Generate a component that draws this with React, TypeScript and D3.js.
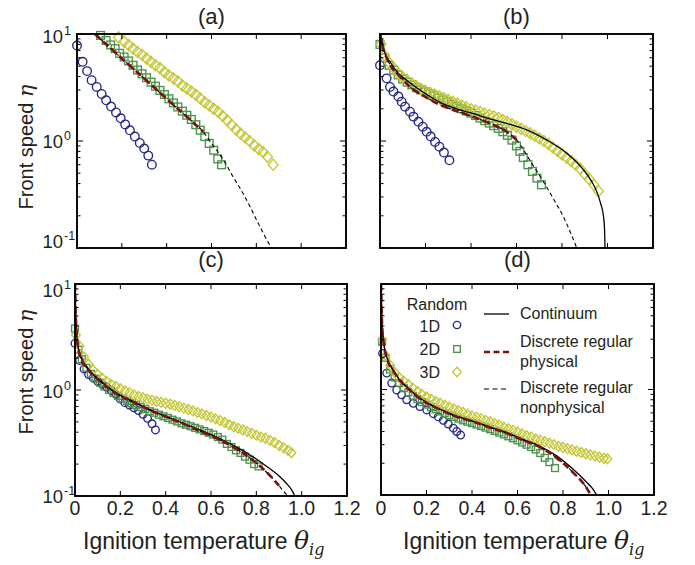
import React from 'react';
import * as d3 from 'd3';

type Pt = [number, number];

// ---------- axis / text content ----------
const xTickValues = [0, 0.2, 0.4, 0.6, 0.8, 1.0, 1.2];
const xTickLabels = ['0', '0.2', '0.4', '0.6', '0.8', '1.0', '1.2'];
const yTickValues = [0.1, 1, 10];
const yTickExponents = ['-1', '0', '1'];
const panelTitles = ['(a)', '(b)', '(c)', '(d)'];
const randomLabels = ['1D', '2D', '3D'];
const lineLabels = [['Continuum'], ['Discrete regular', 'physical'], ['Discrete regular', 'nonphysical']];

// ---------- panel (a) ----------
const a1D: Pt[] = [[0.0, 7.8], [0.025, 5.5], [0.045, 4.5], [0.065, 3.7], [0.088, 3.2], [0.11, 2.75], [0.13, 2.4], [0.152, 2.1], [0.174, 1.85], [0.195, 1.63], [0.215, 1.43], [0.236, 1.26], [0.258, 1.1], [0.28, 0.96], [0.3, 0.85], [0.318, 0.73], [0.334, 0.6]];
const a2D: Pt[] = [[0.105, 9.7], [0.13, 8.7], [0.15, 7.9], [0.17, 7.3], [0.19, 6.6], [0.21, 6.1], [0.23, 5.6], [0.25, 5.1], [0.27, 4.6], [0.29, 4.25], [0.31, 3.9], [0.33, 3.55], [0.35, 3.25], [0.37, 2.97], [0.39, 2.72], [0.41, 2.48], [0.43, 2.27], [0.45, 2.08], [0.47, 1.9], [0.49, 1.74], [0.51, 1.59], [0.53, 1.42], [0.55, 1.26], [0.57, 1.1], [0.59, 0.95], [0.61, 0.82], [0.628, 0.68], [0.645, 0.6]];
const a3D: Pt[] = [[0.185, 9.3], [0.21, 8.5], [0.23, 7.9], [0.25, 7.3], [0.27, 6.8], [0.29, 6.4], [0.31, 5.9], [0.33, 5.5], [0.35, 5.1], [0.37, 4.8], [0.39, 4.4], [0.41, 4.1], [0.43, 3.85], [0.45, 3.6], [0.47, 3.3], [0.49, 3.1], [0.51, 2.9], [0.53, 2.7], [0.55, 2.5], [0.57, 2.3], [0.59, 2.15], [0.61, 2.0], [0.63, 1.87], [0.65, 1.71], [0.67, 1.56], [0.69, 1.41], [0.71, 1.28], [0.73, 1.17], [0.75, 1.08], [0.77, 1.0], [0.79, 0.91], [0.81, 0.84], [0.83, 0.79], [0.85, 0.71], [0.875, 0.6]];
const aPhys: Pt[] = [[0.08, 10], [0.2, 5.9], [0.326, 3.43], [0.4, 2.48], [0.5, 1.61], [0.5635, 1.22]];
const aNonphys: Pt[] = [[0.08, 10], [0.2, 5.9], [0.326, 3.43], [0.4, 2.48], [0.5, 1.61], [0.5635, 1.22], [0.6, 0.95], [0.623, 0.82], [0.66, 0.63], [0.697, 0.46], [0.735, 0.34], [0.772, 0.243], [0.8, 0.185], [0.831, 0.137], [0.868, 0.1]];

// ---------- panel (b) ----------
const b1D: Pt[] = [[0.0, 5.1], [0.029, 3.85], [0.044, 3.2], [0.059, 2.9], [0.081, 2.6], [0.095, 2.33], [0.11, 2.09], [0.132, 1.88], [0.147, 1.69], [0.169, 1.51], [0.188, 1.36], [0.205, 1.22], [0.223, 1.1], [0.242, 0.98], [0.261, 0.885], [0.281, 0.78], [0.305, 0.66]];
const b2D: Pt[] = [[0.0, 8.0], [0.02, 6.0], [0.04, 5.1], [0.06, 4.6], [0.08, 4.15], [0.1, 3.8], [0.12, 3.55], [0.14, 3.35], [0.16, 3.15], [0.18, 3.0], [0.2, 2.88], [0.22, 2.76], [0.24, 2.64], [0.26, 2.52], [0.28, 2.42], [0.3, 2.32], [0.32, 2.2], [0.34, 2.1], [0.36, 2.0], [0.38, 1.91], [0.4, 1.82], [0.42, 1.73], [0.44, 1.64], [0.46, 1.55], [0.48, 1.47], [0.5, 1.39], [0.52, 1.31], [0.54, 1.22], [0.56, 1.13], [0.58, 1.02], [0.6, 0.9], [0.615, 0.8], [0.63, 0.7], [0.65, 0.6], [0.67, 0.52], [0.69, 0.45], [0.71, 0.39]];
const b3D: Pt[] = [[0.005, 8.0], [0.02, 6.3], [0.04, 5.4], [0.06, 4.8], [0.08, 4.3], [0.1, 3.95], [0.12, 3.7], [0.14, 3.45], [0.16, 3.25], [0.18, 3.07], [0.2, 2.93], [0.22, 2.82], [0.24, 2.72], [0.26, 2.62], [0.28, 2.52], [0.3, 2.42], [0.32, 2.32], [0.34, 2.23], [0.36, 2.14], [0.38, 2.06], [0.4, 1.98], [0.42, 1.92], [0.44, 1.86], [0.46, 1.8], [0.48, 1.75], [0.5, 1.7], [0.52, 1.64], [0.54, 1.57], [0.56, 1.5], [0.58, 1.43], [0.6, 1.36], [0.62, 1.3], [0.64, 1.24], [0.66, 1.18], [0.68, 1.12], [0.7, 1.06], [0.72, 1.0], [0.74, 0.94], [0.76, 0.87], [0.78, 0.81], [0.8, 0.75], [0.82, 0.7], [0.84, 0.65], [0.86, 0.6], [0.88, 0.55], [0.9, 0.49], [0.92, 0.44], [0.94, 0.39], [0.96, 0.34]];
const bCont: Pt[] = [[0.004, 10], [0.01, 8.3], [0.02, 6.8], [0.044, 5.5], [0.08, 4.3], [0.117, 3.7], [0.19, 2.85], [0.264, 2.3], [0.337, 2.0], [0.41, 1.8], [0.48, 1.62], [0.557, 1.46], [0.645, 1.27], [0.733, 1.02], [0.821, 0.77], [0.894, 0.54], [0.93, 0.42], [0.952, 0.34], [0.97, 0.26], [0.982, 0.2], [0.987, 0.15], [0.989, 0.1]];
const bPhys: Pt[] = [[0.0, 10], [0.01, 7.8], [0.029, 6.0], [0.06, 4.6], [0.088, 4.0], [0.14, 3.1], [0.19, 2.65], [0.26, 2.2], [0.337, 1.9], [0.41, 1.68], [0.484, 1.46], [0.557, 1.22], [0.601, 1.02]];
const bNonphys: Pt[] = [[0.0, 10], [0.01, 7.8], [0.029, 6.0], [0.06, 4.6], [0.088, 4.0], [0.14, 3.1], [0.19, 2.65], [0.26, 2.2], [0.337, 1.9], [0.41, 1.68], [0.484, 1.46], [0.557, 1.22], [0.601, 1.02], [0.63, 0.83], [0.659, 0.66], [0.695, 0.5], [0.733, 0.37], [0.77, 0.27], [0.806, 0.196], [0.84, 0.135], [0.865, 0.1]];

// ---------- panel (c) ----------
const c1D: Pt[] = [[0.0, 2.75], [0.02, 1.9], [0.04, 1.58], [0.06, 1.4], [0.08, 1.3], [0.1, 1.21], [0.12, 1.13], [0.14, 1.06], [0.16, 0.99], [0.18, 0.91], [0.2, 0.82], [0.22, 0.76], [0.24, 0.72], [0.26, 0.68], [0.28, 0.64], [0.3, 0.59], [0.32, 0.54], [0.34, 0.48], [0.355, 0.42]];
const c2D: Pt[] = [[0.0, 3.8], [0.015, 2.4], [0.03, 1.95], [0.05, 1.62], [0.07, 1.42], [0.09, 1.28], [0.11, 1.17], [0.13, 1.08], [0.15, 1.0], [0.17, 0.94], [0.19, 0.88], [0.21, 0.83], [0.23, 0.79], [0.25, 0.75], [0.27, 0.72], [0.29, 0.69], [0.31, 0.66], [0.33, 0.63], [0.35, 0.61], [0.37, 0.585], [0.39, 0.565], [0.41, 0.545], [0.43, 0.525], [0.45, 0.505], [0.47, 0.485], [0.49, 0.47], [0.51, 0.455], [0.53, 0.44], [0.55, 0.425], [0.57, 0.41], [0.59, 0.395], [0.61, 0.38], [0.63, 0.36], [0.65, 0.34], [0.67, 0.31], [0.69, 0.29], [0.71, 0.27], [0.73, 0.255], [0.75, 0.235], [0.77, 0.22], [0.79, 0.2], [0.81, 0.19]];
const c3D: Pt[] = [[0.004, 3.3], [0.02, 2.6], [0.04, 2.05], [0.06, 1.75], [0.08, 1.55], [0.1, 1.4], [0.12, 1.29], [0.14, 1.2], [0.16, 1.13], [0.18, 1.08], [0.2, 1.03], [0.22, 0.98], [0.24, 0.94], [0.26, 0.9], [0.28, 0.87], [0.3, 0.845], [0.32, 0.82], [0.34, 0.8], [0.36, 0.78], [0.38, 0.765], [0.4, 0.75], [0.42, 0.735], [0.44, 0.715], [0.46, 0.695], [0.48, 0.675], [0.5, 0.655], [0.52, 0.635], [0.54, 0.615], [0.56, 0.595], [0.58, 0.575], [0.6, 0.555], [0.62, 0.535], [0.64, 0.515], [0.66, 0.495], [0.68, 0.47], [0.7, 0.45], [0.72, 0.435], [0.74, 0.42], [0.76, 0.405], [0.78, 0.39], [0.8, 0.375], [0.82, 0.36], [0.84, 0.35], [0.86, 0.335], [0.88, 0.32], [0.9, 0.3], [0.92, 0.285], [0.94, 0.27], [0.955, 0.256]];
const cCont: Pt[] = [[0.0005, 10], [0.003, 5.5], [0.007, 3.5], [0.015, 2.5], [0.03, 1.95], [0.051, 1.66], [0.08, 1.4], [0.11, 1.24], [0.15, 1.05], [0.184, 0.93], [0.257, 0.78], [0.331, 0.65], [0.405, 0.56], [0.478, 0.485], [0.551, 0.42], [0.625, 0.36], [0.698, 0.3], [0.772, 0.244], [0.846, 0.19], [0.904, 0.152], [0.935, 0.13], [0.955, 0.115], [0.97, 0.1]];
const cPhys: Pt[] = [[0.0, 10], [0.003, 5.2], [0.007, 3.4], [0.015, 2.45], [0.03, 1.9], [0.051, 1.62], [0.08, 1.37], [0.11, 1.21], [0.15, 1.03], [0.184, 0.92], [0.257, 0.77], [0.331, 0.645], [0.405, 0.555], [0.478, 0.48], [0.551, 0.41], [0.625, 0.35], [0.698, 0.29], [0.772, 0.228], [0.83, 0.18], [0.87, 0.148], [0.9, 0.125]];
const cNonphys: Pt[] = [[0.0, 10], [0.003, 5.2], [0.007, 3.4], [0.015, 2.45], [0.03, 1.9], [0.051, 1.62], [0.08, 1.37], [0.11, 1.21], [0.15, 1.03], [0.184, 0.92], [0.257, 0.77], [0.331, 0.645], [0.405, 0.555], [0.478, 0.48], [0.551, 0.41], [0.625, 0.35], [0.698, 0.29], [0.772, 0.228], [0.83, 0.18], [0.87, 0.148], [0.9, 0.125], [0.92, 0.111], [0.94, 0.1]];

// ---------- panel (d) ----------
const d1D: Pt[] = [[0.007, 2.2], [0.025, 1.43], [0.047, 1.15], [0.069, 0.99], [0.091, 0.89], [0.113, 0.8], [0.142, 0.74], [0.171, 0.69], [0.201, 0.64], [0.23, 0.59], [0.252, 0.55], [0.274, 0.51], [0.296, 0.47], [0.318, 0.43], [0.333, 0.4], [0.35, 0.37]];
const d2D: Pt[] = [[0.005, 2.84], [0.02, 2.0], [0.04, 1.55], [0.06, 1.3], [0.08, 1.15], [0.1, 1.03], [0.12, 0.94], [0.14, 0.87], [0.16, 0.81], [0.18, 0.76], [0.2, 0.72], [0.22, 0.68], [0.24, 0.65], [0.26, 0.62], [0.28, 0.595], [0.3, 0.57], [0.32, 0.55], [0.34, 0.53], [0.36, 0.51], [0.38, 0.495], [0.4, 0.48], [0.42, 0.465], [0.44, 0.45], [0.46, 0.435], [0.48, 0.42], [0.5, 0.405], [0.52, 0.39], [0.54, 0.375], [0.56, 0.36], [0.58, 0.345], [0.6, 0.33], [0.62, 0.315], [0.64, 0.3], [0.66, 0.285], [0.68, 0.27], [0.7, 0.25], [0.72, 0.225], [0.74, 0.205], [0.765, 0.18]];
const d3D: Pt[] = [[0.005, 2.94], [0.02, 2.1], [0.04, 1.7], [0.06, 1.45], [0.08, 1.3], [0.1, 1.2], [0.12, 1.11], [0.14, 1.03], [0.16, 0.96], [0.18, 0.9], [0.2, 0.85], [0.22, 0.81], [0.24, 0.77], [0.26, 0.74], [0.28, 0.71], [0.3, 0.68], [0.32, 0.655], [0.34, 0.63], [0.36, 0.61], [0.38, 0.585], [0.4, 0.56], [0.42, 0.545], [0.44, 0.53], [0.46, 0.51], [0.48, 0.495], [0.5, 0.475], [0.52, 0.46], [0.54, 0.44], [0.56, 0.425], [0.58, 0.41], [0.6, 0.395], [0.62, 0.38], [0.64, 0.365], [0.66, 0.355], [0.68, 0.34], [0.7, 0.33], [0.72, 0.32], [0.74, 0.31], [0.76, 0.3], [0.78, 0.29], [0.8, 0.282], [0.82, 0.275], [0.84, 0.268], [0.86, 0.26], [0.88, 0.253], [0.9, 0.246], [0.92, 0.24], [0.94, 0.234], [0.96, 0.228], [0.98, 0.223], [0.995, 0.22]];
const dCont: Pt[] = [[0.001, 10], [0.004, 4.5], [0.01, 3.0], [0.025, 2.05], [0.054, 1.53], [0.08, 1.25], [0.113, 1.06], [0.15, 0.9], [0.186, 0.79], [0.259, 0.65], [0.33, 0.56], [0.406, 0.5], [0.48, 0.44], [0.553, 0.39], [0.626, 0.335], [0.699, 0.29], [0.772, 0.235], [0.845, 0.175], [0.904, 0.132], [0.93, 0.115], [0.948, 0.1]];
const dPhys: Pt[] = [[0.0, 10], [0.004, 4.4], [0.01, 2.95], [0.025, 2.02], [0.054, 1.51], [0.08, 1.24], [0.113, 1.05], [0.15, 0.89], [0.186, 0.78], [0.259, 0.645], [0.33, 0.555], [0.406, 0.495], [0.48, 0.435], [0.553, 0.385], [0.626, 0.33], [0.699, 0.285], [0.772, 0.225], [0.845, 0.163], [0.9, 0.12], [0.922, 0.1]];
const dNonphys: Pt[] = [[0.0, 10], [0.004, 4.4], [0.01, 2.95], [0.025, 2.02], [0.054, 1.51], [0.08, 1.24], [0.113, 1.05], [0.15, 0.89], [0.186, 0.78], [0.259, 0.645], [0.33, 0.555], [0.406, 0.495], [0.48, 0.435], [0.553, 0.385], [0.626, 0.33], [0.699, 0.285], [0.772, 0.225], [0.845, 0.163], [0.9, 0.12], [0.922, 0.1]];

// ---------- styling ----------
const FONT = '"Liberation Sans", Arial, Helvetica, sans-serif';
const MATH = '"DejaVu Serif", "Liberation Serif", serif';
const INK = '#231f20';
const COL1 = '#24278a';
const COL2 = '#4c924a';
const COL3 = '#c4c732';
const COLRED = '#7a1212';
const MSTROKE = 1.35;

const panels = [
  { box: { l: 77, r: 346, t: 34, b: 248 }, s1: a1D, s2: a2D, s3: a3D, cont: null as Pt[] | null, phys: aPhys, nonphys: aNonphys, yLab: true, xLab: false, yOff: [0, 7, 9], ms: 4.3, xTitle: 0 },
  { box: { l: 380, r: 653, t: 34, b: 248 }, s1: b1D, s2: b2D, s3: b3D, cont: bCont, phys: bPhys, nonphys: bNonphys, yLab: false, xLab: false, yOff: [0, 7, 9], ms: 4.3, xTitle: 0 },
  { box: { l: 75, r: 347, t: 284, b: 496 }, s1: c1D, s2: c2D, s3: c3D, cont: cCont, phys: cPhys, nonphys: cNonphys, yLab: true, xLab: true, yOff: [7, 8, 13], ms: 3.8, xTitle: 83 },
  { box: { l: 381, r: 654, t: 284, b: 495 }, s1: d1D, s2: d2D, s3: d3D, cont: dCont, phys: dPhys, nonphys: dNonphys, yLab: false, xLab: true, yOff: [7, 8, 13], ms: 3.8, xTitle: 403 },
];

function Marker({ kind, x, y, s }: { kind: number; x: number; y: number; s: number }) {
  if (kind === 0) return <circle cx={x} cy={y} r={s} fill="none" stroke={COL1} strokeWidth={MSTROKE} />;
  if (kind === 1) return <rect x={x - s * 0.9} y={y - s * 0.9} width={s * 1.8} height={s * 1.8} fill="none" stroke={COL2} strokeWidth={MSTROKE} />;
  return <path d={`M${x},${y - s * 1.3}L${x + s * 1.15},${y}L${x},${y + s * 1.3}L${x - s * 1.15},${y}Z`} fill="none" stroke={COL3} strokeWidth={MSTROKE} />;
}

function Panel({ p, idx }: { p: typeof panels[number]; idx: number }) {
  const { box } = p;
  const xs = d3.scaleLinear().domain([0, 1.2]).range([box.l, box.r]);
  const ys = d3.scaleLog().domain([0.1, 10]).range([box.b, box.t]);
  const line = d3.line<Pt>().x(d => xs(d[0])).y(d => ys(d[1])).curve(d3.curveMonotoneX);
  const minor: number[] = [];
  [0.1, 1].forEach(dec => { for (let k = 2; k <= 9; k++) minor.push(dec * k); });
  const clipId = `clip${idx}`;
  const cx = (box.l + box.r) / 2;
  return (
    <g>
      <defs>
        <clipPath id={clipId}><rect x={box.l} y={box.t} width={box.r - box.l} height={box.b - box.t} /></clipPath>
      </defs>
      <text x={cx} y={idx < 2 ? 24 : 267} textAnchor="middle" fontSize={22} fontFamily={FONT} fill={INK}>{panelTitles[idx]}</text>
      {[p.s1, p.s2, p.s3].map((s, k) => (
        <g key={k}>{s.map((d, i) => <Marker key={i} kind={k} x={xs(d[0])} y={ys(d[1])} s={p.ms} />)}</g>
      ))}
      <g clipPath={`url(#${clipId})`}>
        {p.cont && <path d={line(p.cont) || ''} fill="none" stroke="#000" strokeWidth={1.3} />}
        <path d={line(p.nonphys) || ''} fill="none" stroke="#000" strokeWidth={1.1} strokeDasharray="4,3" />
        <path d={line(p.phys) || ''} fill="none" stroke={COLRED} strokeWidth={2.7} strokeDasharray="7,4" />
      </g>
      <rect x={box.l} y={box.t} width={box.r - box.l} height={box.b - box.t} fill="none" stroke="#000" strokeWidth={1.9} />
      {xTickValues.map((v, i) => (
        <g key={'x' + i}>
          <line x1={xs(v)} x2={xs(v)} y1={box.b} y2={box.b - 5} stroke="#000" strokeWidth={1} />
          <line x1={xs(v)} x2={xs(v)} y1={box.t} y2={box.t + 5} stroke="#000" strokeWidth={1} />
          {p.xLab && <text x={xs(v)} y={515} textAnchor="middle" fontSize={19.5} fontFamily={FONT} fill={INK}>{xTickLabels[i]}</text>}
        </g>
      ))}
      {yTickValues.map((v, i) => (
        <g key={'y' + i}>
          <line x1={box.l} x2={box.l + 6} y1={ys(v)} y2={ys(v)} stroke="#000" strokeWidth={1} />
          <line x1={box.r} x2={box.r - 6} y1={ys(v)} y2={ys(v)} stroke="#000" strokeWidth={1} />
          {p.yLab && (
            <g>
              <text x={63} y={ys(v) + p.yOff[i]} textAnchor="end" fontSize={18.5} fontFamily={FONT} fill={INK}>10</text>
              <text x={64} y={ys(v) + p.yOff[i] - 8} textAnchor="start" fontSize={12.5} fontFamily={FONT} fill={INK}>{yTickExponents[i]}</text>
            </g>
          )}
        </g>
      ))}
      {minor.map((v, i) => (
        <g key={'m' + i}>
          <line x1={box.l} x2={box.l + 3.5} y1={ys(v)} y2={ys(v)} stroke="#000" strokeWidth={1} />
          <line x1={box.r} x2={box.r - 3.5} y1={ys(v)} y2={ys(v)} stroke="#000" strokeWidth={1} />
        </g>
      ))}
      {p.yLab && (
        <text transform={`translate(33,${idx < 2 ? 147 : 372}) rotate(-90)`} textAnchor="middle" fontSize={20} fontFamily={FONT} fill={INK}>
          Front speed <tspan fontFamily={MATH} fontStyle="italic" fontSize={21}>η</tspan>
        </text>
      )}
      {p.xLab && (
        <text x={p.xTitle} y={549} fontSize={23} fontFamily={FONT} fill={INK}>
          Ignition temperature <tspan fontFamily={MATH} fontStyle="italic" fontSize={25}>θ</tspan>
          <tspan fontFamily={MATH} fontStyle="italic" fontSize={16} dy={6}>ig</tspan>
        </text>
      )}
    </g>
  );
}

function Legend() {
  const rowY = [325, 349, 372];
  const baseY = [332, 355, 378];
  return (
    <g fontFamily={FONT} fill={INK} fontSize={16}>
      <text x={437} y={310} textAnchor="middle">Random</text>
      {randomLabels.map((t, i) => (
        <g key={i}>
          <text x={440} y={baseY[i]} textAnchor="end">{t}</text>
          <Marker kind={i} x={457} y={rowY[i]} s={3.7} />
        </g>
      ))}
      <line x1={484} x2={509} y1={314} y2={314} stroke="#000" strokeWidth={1.3} />
      <text x={520} y={319}>{lineLabels[0][0]}</text>
      <line x1={484} x2={509} y1={352} y2={352} stroke={COLRED} strokeWidth={2.7} strokeDasharray="6,3.5" />
      <text x={520} y={347}>{lineLabels[1][0]}</text>
      <text x={520} y={367}>{lineLabels[1][1]}</text>
      <line x1={484} x2={509} y1={389} y2={389} stroke="#000" strokeWidth={1.2} strokeDasharray="5,3.5" />
      <text x={520} y={393}>{lineLabels[2][0]}</text>
      <text x={520} y={413}>{lineLabels[2][1]}</text>
    </g>
  );
}

export default function App() {
  return (
    <svg width={695} height={565} style={{ position: 'absolute', left: 0, top: 0, background: '#fff' }}>
      <rect x={0} y={0} width={695} height={565} fill="#fff" />
      {panels.map((p, i) => <Panel key={i} p={p} idx={i} />)}
      <Legend />
    </svg>
  );
}
